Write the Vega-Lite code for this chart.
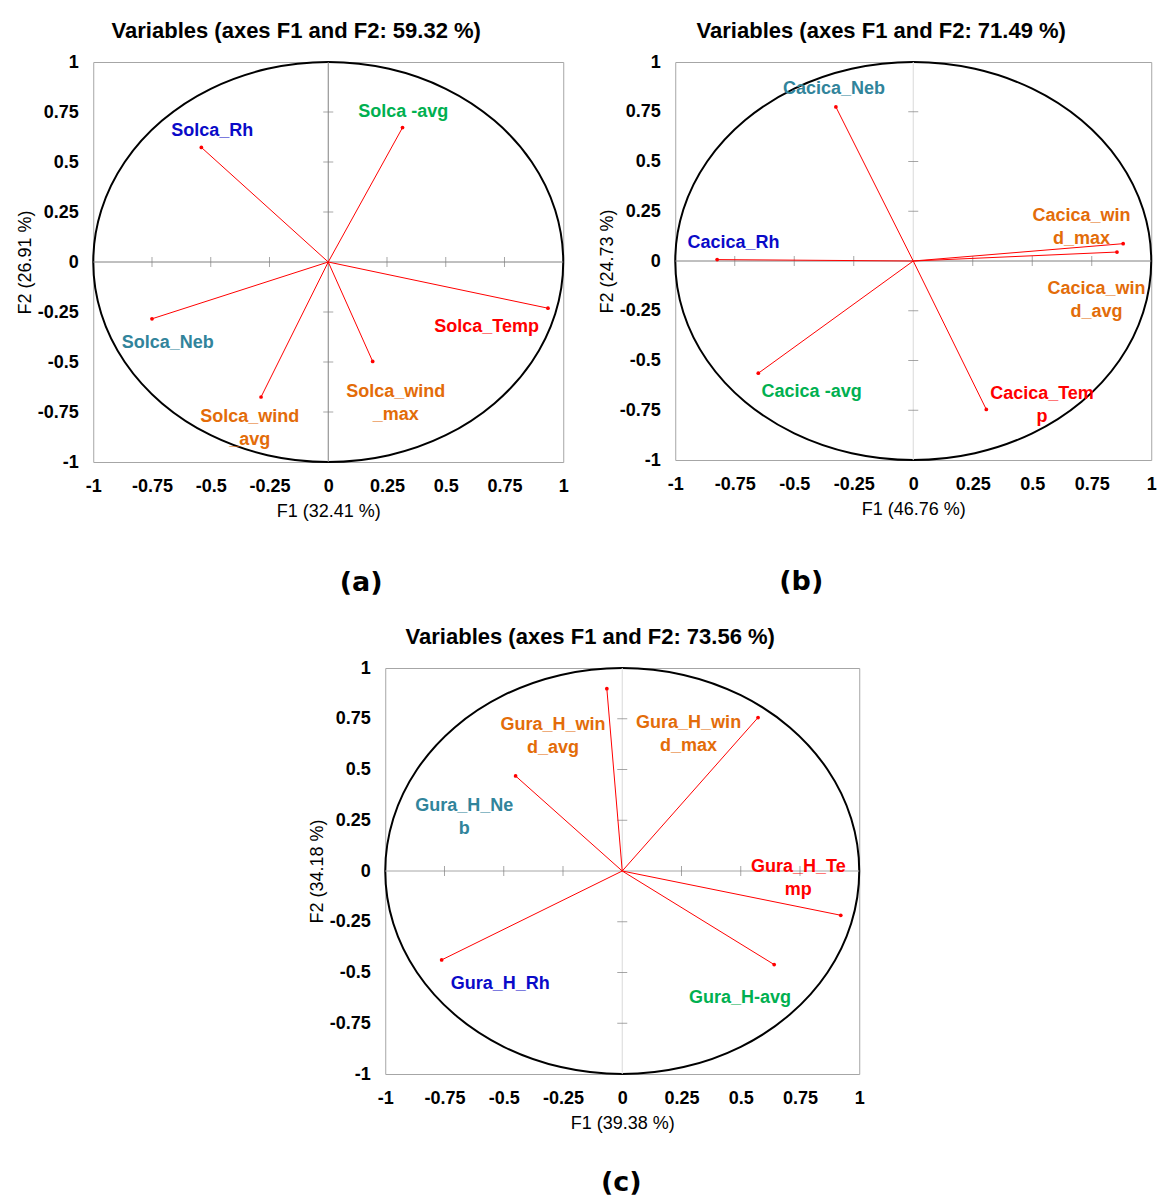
{
"$schema": "https://vega.github.io/schema/vega-lite/v6.json",
"padding": {"left": 15, "top": 19, "right": 0, "bottom": 0},
"datasets": {
"circle": [{"i":0,"cx":1,"cy":0},{"i":1,"cx":0.9659,"cy":0.2588},{"i":2,"cx":0.866,"cy":0.5},{"i":3,"cx":0.7071,"cy":0.7071},{"i":4,"cx":0.5,"cy":0.866},{"i":5,"cx":0.2588,"cy":0.9659},{"i":6,"cx":0,"cy":1},{"i":7,"cx":-0.2588,"cy":0.9659},{"i":8,"cx":-0.5,"cy":0.866},{"i":9,"cx":-0.7071,"cy":0.7071},{"i":10,"cx":-0.866,"cy":0.5},{"i":11,"cx":-0.9659,"cy":0.2588},{"i":12,"cx":-1,"cy":0},{"i":13,"cx":-0.9659,"cy":-0.2588},{"i":14,"cx":-0.866,"cy":-0.5},{"i":15,"cx":-0.7071,"cy":-0.7071},{"i":16,"cx":-0.5,"cy":-0.866},{"i":17,"cx":-0.2588,"cy":-0.9659},{"i":18,"cx":0,"cy":-1},{"i":19,"cx":0.2588,"cy":-0.9659},{"i":20,"cx":0.5,"cy":-0.866},{"i":21,"cx":0.7071,"cy":-0.7071},{"i":22,"cx":0.866,"cy":-0.5},{"i":23,"cx":0.9659,"cy":-0.2588}],
"zero": [{"z":0}],
"ticks": [{"v":-0.75,"z":0},{"v":-0.5,"z":0},{"v":-0.25,"z":0},{"v":0.25,"z":0},{"v":0.5,"z":0},{"v":0.75,"z":0}],
"va": [
{"label":"Solca_Rh","type":"Rh","x":-0.54,"y":0.573,"lx":-0.494,"ly":0.657,"o":0},
{"label":"Solca -avg","type":"avg","x":0.316,"y":0.672,"lx":0.319,"ly":0.751,"o":0},
{"label":"Solca_Neb","type":"Neb","x":-0.75,"y":-0.284,"lx":-0.683,"ly":-0.405,"o":0},
{"label":"Solca_Temp","type":"Temp","x":0.935,"y":-0.231,"lx":0.674,"ly":-0.327,"o":0},
{"label":"Solca_wind\n_max","type":"wind","x":0.189,"y":-0.497,"lx":0.287,"ly":-0.651,"o":0},
{"label":"Solca_wind\n_avg","type":"wind","x":-0.286,"y":-0.675,"lx":-0.334,"ly":-0.774,"o":0}
],
"vb": [
{"label":"Cacica_Neb","type":"Neb","x":-0.325,"y":0.774,"lx":-0.333,"ly":0.864,"o":0},
{"label":"Cacica_Rh","type":"Rh","x":-0.824,"y":0.007,"lx":-0.755,"ly":0.091,"o":0},
{"label":"Cacica_win\nd_max","type":"wind","x":0.882,"y":0.087,"lx":0.707,"ly":0.225,"o":0},
{"label":"Cacica_win\nd_avg","type":"wind","x":0.856,"y":0.045,"lx":0.77,"ly":-0.139,"o":0},
{"label":"Cacica -avg","type":"avg","x":-0.651,"y":-0.564,"lx":-0.427,"ly":-0.657,"o":0},
{"label":"Cacica_Tem\np","type":"Temp","x":0.307,"y":-0.746,"lx":0.541,"ly":-0.669,"o":0}
],
"vc": [
{"label":"Gura_H_win\nd_avg","type":"wind","x":-0.065,"y":0.898,"lx":-0.292,"ly":0.72,"o":0},
{"label":"Gura_H_win\nd_max","type":"wind","x":0.573,"y":0.756,"lx":0.28,"ly":0.728,"o":0},
{"label":"Gura_H_Ne\nb","type":"Neb","x":-0.45,"y":0.468,"lx":-0.667,"ly":0.321,"o":0},
{"label":"Gura_H_Te\nmp","type":"Temp","x":0.922,"y":-0.218,"lx":0.743,"ly":0.018,"o":0},
{"label":"Gura_H_Rh","type":"Rh","x":-0.762,"y":-0.438,"lx":-0.515,"ly":-0.558,"o":0},
{"label":"Gura_H-avg","type":"avg","x":0.641,"y":-0.461,"lx":0.497,"ly":-0.624,"o":0}
]
},
"config": {
"view": {"stroke": "#a6a6a6", "strokeWidth": 1},
"font": "Liberation Sans",
"axis": {"grid": false, "ticks": false, "domain": false, "labelFont": "Liberation Sans", "labelFontSize": 18, "labelFontWeight": "bold", "labelColor": "#000000", "titleFont": "Liberation Sans", "titleFontSize": 18, "titleFontWeight": "normal", "titleColor": "#000000", "labelFlush": false, "labelOverlap": false},
"axisX": {"labelPadding": 15, "titlePadding": 7},
"axisY": {"labelPadding": 15, "titlePadding": 3},
"title": {"font": "Liberation Sans", "fontSize": 22, "fontWeight": "bold", "color": "#000000", "offset": 10, "frame": "bounds", "anchor": "middle"}
},
"spacing": 29,
"center": true,
"vconcat": [
{"hconcat": [
{"title": {"text": "(a)", "orient": "bottom", "anchor": "middle", "font": "DejaVu Sans", "fontSize": 27, "fontWeight": "bold", "offset": 49, "dx": 69},
 "vconcat": [
{"width": 470, "height": 400,
 "title": {"text": "Variables (axes F1 and F2: 59.32 %)", "dx": 4},
 "layer": [
  {"data": {"name": "circle"}, "mark": {"type": "line", "interpolate": "cardinal-closed", "color": "#000000", "strokeWidth": 2},
   "encoding": {
    "x": {"field": "cx", "type": "quantitative", "scale": {"domain": [-1, 1], "nice": false}, "axis": {"title": "F1 (32.41 %)", "values": [-1,-0.75,-0.5,-0.25,0,0.25,0.5,0.75,1], "labelExpr": "'' + datum.value"}},
    "y": {"field": "cy", "type": "quantitative", "scale": {"domain": [-1, 1], "nice": false}, "axis": {"title": "F2 (26.91 %)", "values": [-1,-0.75,-0.5,-0.25,0,0.25,0.5,0.75,1], "labelExpr": "'' + datum.value"}},
    "order": {"field": "i", "type": "quantitative"}}},
  {"data": {"name": "zero"}, "mark": {"type": "rule", "color": "#808080", "strokeWidth": 1}, "encoding": {"y": {"field": "z", "type": "quantitative"}}},
  {"data": {"name": "zero"}, "mark": {"type": "rule", "color": "#808080", "strokeWidth": 1}, "encoding": {"x": {"field": "z", "type": "quantitative"}}},
  {"data": {"name": "ticks"}, "mark": {"type": "tick", "orient": "vertical", "color": "#808080", "size": 10, "thickness": 1}, "encoding": {"x": {"field": "v", "type": "quantitative"}, "y": {"field": "z", "type": "quantitative"}}},
  {"data": {"name": "ticks"}, "mark": {"type": "tick", "orient": "horizontal", "color": "#808080", "size": 10, "thickness": 1}, "encoding": {"y": {"field": "v", "type": "quantitative"}, "x": {"field": "z", "type": "quantitative"}}},
  {"data": {"name": "va"}, "mark": {"type": "rule", "color": "#ff0000", "strokeWidth": 1}, "encoding": {"x": {"field": "o", "type": "quantitative"}, "y": {"field": "o", "type": "quantitative"}, "x2": {"field": "x"}, "y2": {"field": "y"}}},
  {"data": {"name": "va"}, "mark": {"type": "point", "filled": true, "color": "#ff0000", "size": 14, "opacity": 1}, "encoding": {"x": {"field": "x", "type": "quantitative"}, "y": {"field": "y", "type": "quantitative"}}},
  {"data": {"name": "va"}, "mark": {"type": "text", "font": "Liberation Sans", "fontSize": 18, "fontWeight": "bold", "lineBreak": "\n", "lineHeight": 23, "baseline": "middle", "align": "center"},
   "encoding": {"x": {"field": "lx", "type": "quantitative"}, "y": {"field": "ly", "type": "quantitative"}, "text": {"field": "label"},
    "color": {"field": "type", "type": "nominal", "scale": {"domain": ["Rh", "avg", "Neb", "Temp", "wind"], "range": ["#0a0ac8", "#00b050", "#31849b", "#ff0000", "#e36c09"]}, "legend": null}}}
 ]}
]},
{"title": {"text": "(b)", "orient": "bottom", "anchor": "middle", "font": "DejaVu Sans", "fontSize": 27, "fontWeight": "bold", "offset": 50, "dx": -76},
 "vconcat": [
{"width": 476, "height": 398,
 "title": {"text": "Variables (axes F1 and F2: 71.49 %)", "dx": 4},
 "layer": [
  {"data": {"name": "circle"}, "mark": {"type": "line", "interpolate": "cardinal-closed", "color": "#000000", "strokeWidth": 2},
   "encoding": {
    "x": {"field": "cx", "type": "quantitative", "scale": {"domain": [-1, 1], "nice": false}, "axis": {"title": "F1 (46.76 %)", "values": [-1,-0.75,-0.5,-0.25,0,0.25,0.5,0.75,1], "labelExpr": "'' + datum.value"}},
    "y": {"field": "cy", "type": "quantitative", "scale": {"domain": [-1, 1], "nice": false}, "axis": {"title": "F2 (24.73 %)", "values": [-1,-0.75,-0.5,-0.25,0,0.25,0.5,0.75,1], "labelExpr": "'' + datum.value"}},
    "order": {"field": "i", "type": "quantitative"}}},
  {"data": {"name": "zero"}, "mark": {"type": "rule", "color": "#808080", "strokeWidth": 1}, "encoding": {"y": {"field": "z", "type": "quantitative"}}},
  {"data": {"name": "zero"}, "mark": {"type": "rule", "color": "#d9d9d9", "strokeWidth": 1}, "encoding": {"x": {"field": "z", "type": "quantitative"}}},
  {"data": {"name": "ticks"}, "mark": {"type": "tick", "orient": "vertical", "color": "#808080", "size": 10, "thickness": 1}, "encoding": {"x": {"field": "v", "type": "quantitative"}, "y": {"field": "z", "type": "quantitative"}}},
  {"data": {"name": "ticks"}, "mark": {"type": "tick", "orient": "horizontal", "color": "#808080", "size": 10, "thickness": 1}, "encoding": {"y": {"field": "v", "type": "quantitative"}, "x": {"field": "z", "type": "quantitative"}}},
  {"data": {"name": "vb"}, "mark": {"type": "rule", "color": "#ff0000", "strokeWidth": 1}, "encoding": {"x": {"field": "o", "type": "quantitative"}, "y": {"field": "o", "type": "quantitative"}, "x2": {"field": "x"}, "y2": {"field": "y"}}},
  {"data": {"name": "vb"}, "mark": {"type": "point", "filled": true, "color": "#ff0000", "size": 14, "opacity": 1}, "encoding": {"x": {"field": "x", "type": "quantitative"}, "y": {"field": "y", "type": "quantitative"}}},
  {"data": {"name": "vb"}, "mark": {"type": "text", "font": "Liberation Sans", "fontSize": 18, "fontWeight": "bold", "lineBreak": "\n", "lineHeight": 23, "baseline": "middle", "align": "center"},
   "encoding": {"x": {"field": "lx", "type": "quantitative"}, "y": {"field": "ly", "type": "quantitative"}, "text": {"field": "label"},
    "color": {"field": "type", "type": "nominal", "scale": {"domain": ["Rh", "avg", "Neb", "Temp", "wind"], "range": ["#0a0ac8", "#00b050", "#31849b", "#ff0000", "#e36c09"]}, "legend": null}}}
 ]}
]}
], "spacing": 28},
{"title": {"text": "(c)", "orient": "bottom", "anchor": "middle", "font": "DejaVu Sans", "fontSize": 27, "fontWeight": "bold", "offset": 37, "dx": 35},
 "vconcat": [
{"width": 474, "height": 406,
 "title": {"text": "Variables (axes F1 and F2: 73.56 %)", "dx": 4},
 "layer": [
  {"data": {"name": "circle"}, "mark": {"type": "line", "interpolate": "cardinal-closed", "color": "#000000", "strokeWidth": 2},
   "encoding": {
    "x": {"field": "cx", "type": "quantitative", "scale": {"domain": [-1, 1], "nice": false}, "axis": {"title": "F1 (39.38 %)", "values": [-1,-0.75,-0.5,-0.25,0,0.25,0.5,0.75,1], "labelExpr": "'' + datum.value"}},
    "y": {"field": "cy", "type": "quantitative", "scale": {"domain": [-1, 1], "nice": false}, "axis": {"title": "F2 (34.18 %)", "values": [-1,-0.75,-0.5,-0.25,0,0.25,0.5,0.75,1], "labelExpr": "'' + datum.value"}},
    "order": {"field": "i", "type": "quantitative"}}},
  {"data": {"name": "zero"}, "mark": {"type": "rule", "color": "#a6a6a6", "strokeWidth": 1}, "encoding": {"y": {"field": "z", "type": "quantitative"}}},
  {"data": {"name": "zero"}, "mark": {"type": "rule", "color": "#d9d9d9", "strokeWidth": 1}, "encoding": {"x": {"field": "z", "type": "quantitative"}}},
  {"data": {"name": "ticks"}, "mark": {"type": "tick", "orient": "vertical", "color": "#808080", "size": 10, "thickness": 1}, "encoding": {"x": {"field": "v", "type": "quantitative"}, "y": {"field": "z", "type": "quantitative"}}},
  {"data": {"name": "ticks"}, "mark": {"type": "tick", "orient": "horizontal", "color": "#808080", "size": 10, "thickness": 1}, "encoding": {"y": {"field": "v", "type": "quantitative"}, "x": {"field": "z", "type": "quantitative"}}},
  {"data": {"name": "vc"}, "mark": {"type": "rule", "color": "#ff0000", "strokeWidth": 1}, "encoding": {"x": {"field": "o", "type": "quantitative"}, "y": {"field": "o", "type": "quantitative"}, "x2": {"field": "x"}, "y2": {"field": "y"}}},
  {"data": {"name": "vc"}, "mark": {"type": "point", "filled": true, "color": "#ff0000", "size": 14, "opacity": 1}, "encoding": {"x": {"field": "x", "type": "quantitative"}, "y": {"field": "y", "type": "quantitative"}}},
  {"data": {"name": "vc"}, "mark": {"type": "text", "font": "Liberation Sans", "fontSize": 18, "fontWeight": "bold", "lineBreak": "\n", "lineHeight": 23, "baseline": "middle", "align": "center"},
   "encoding": {"x": {"field": "lx", "type": "quantitative"}, "y": {"field": "ly", "type": "quantitative"}, "text": {"field": "label"},
    "color": {"field": "type", "type": "nominal", "scale": {"domain": ["Rh", "avg", "Neb", "Temp", "wind"], "range": ["#0a0ac8", "#00b050", "#31849b", "#ff0000", "#e36c09"]}, "legend": null}}}
 ]}
]}
]
}
